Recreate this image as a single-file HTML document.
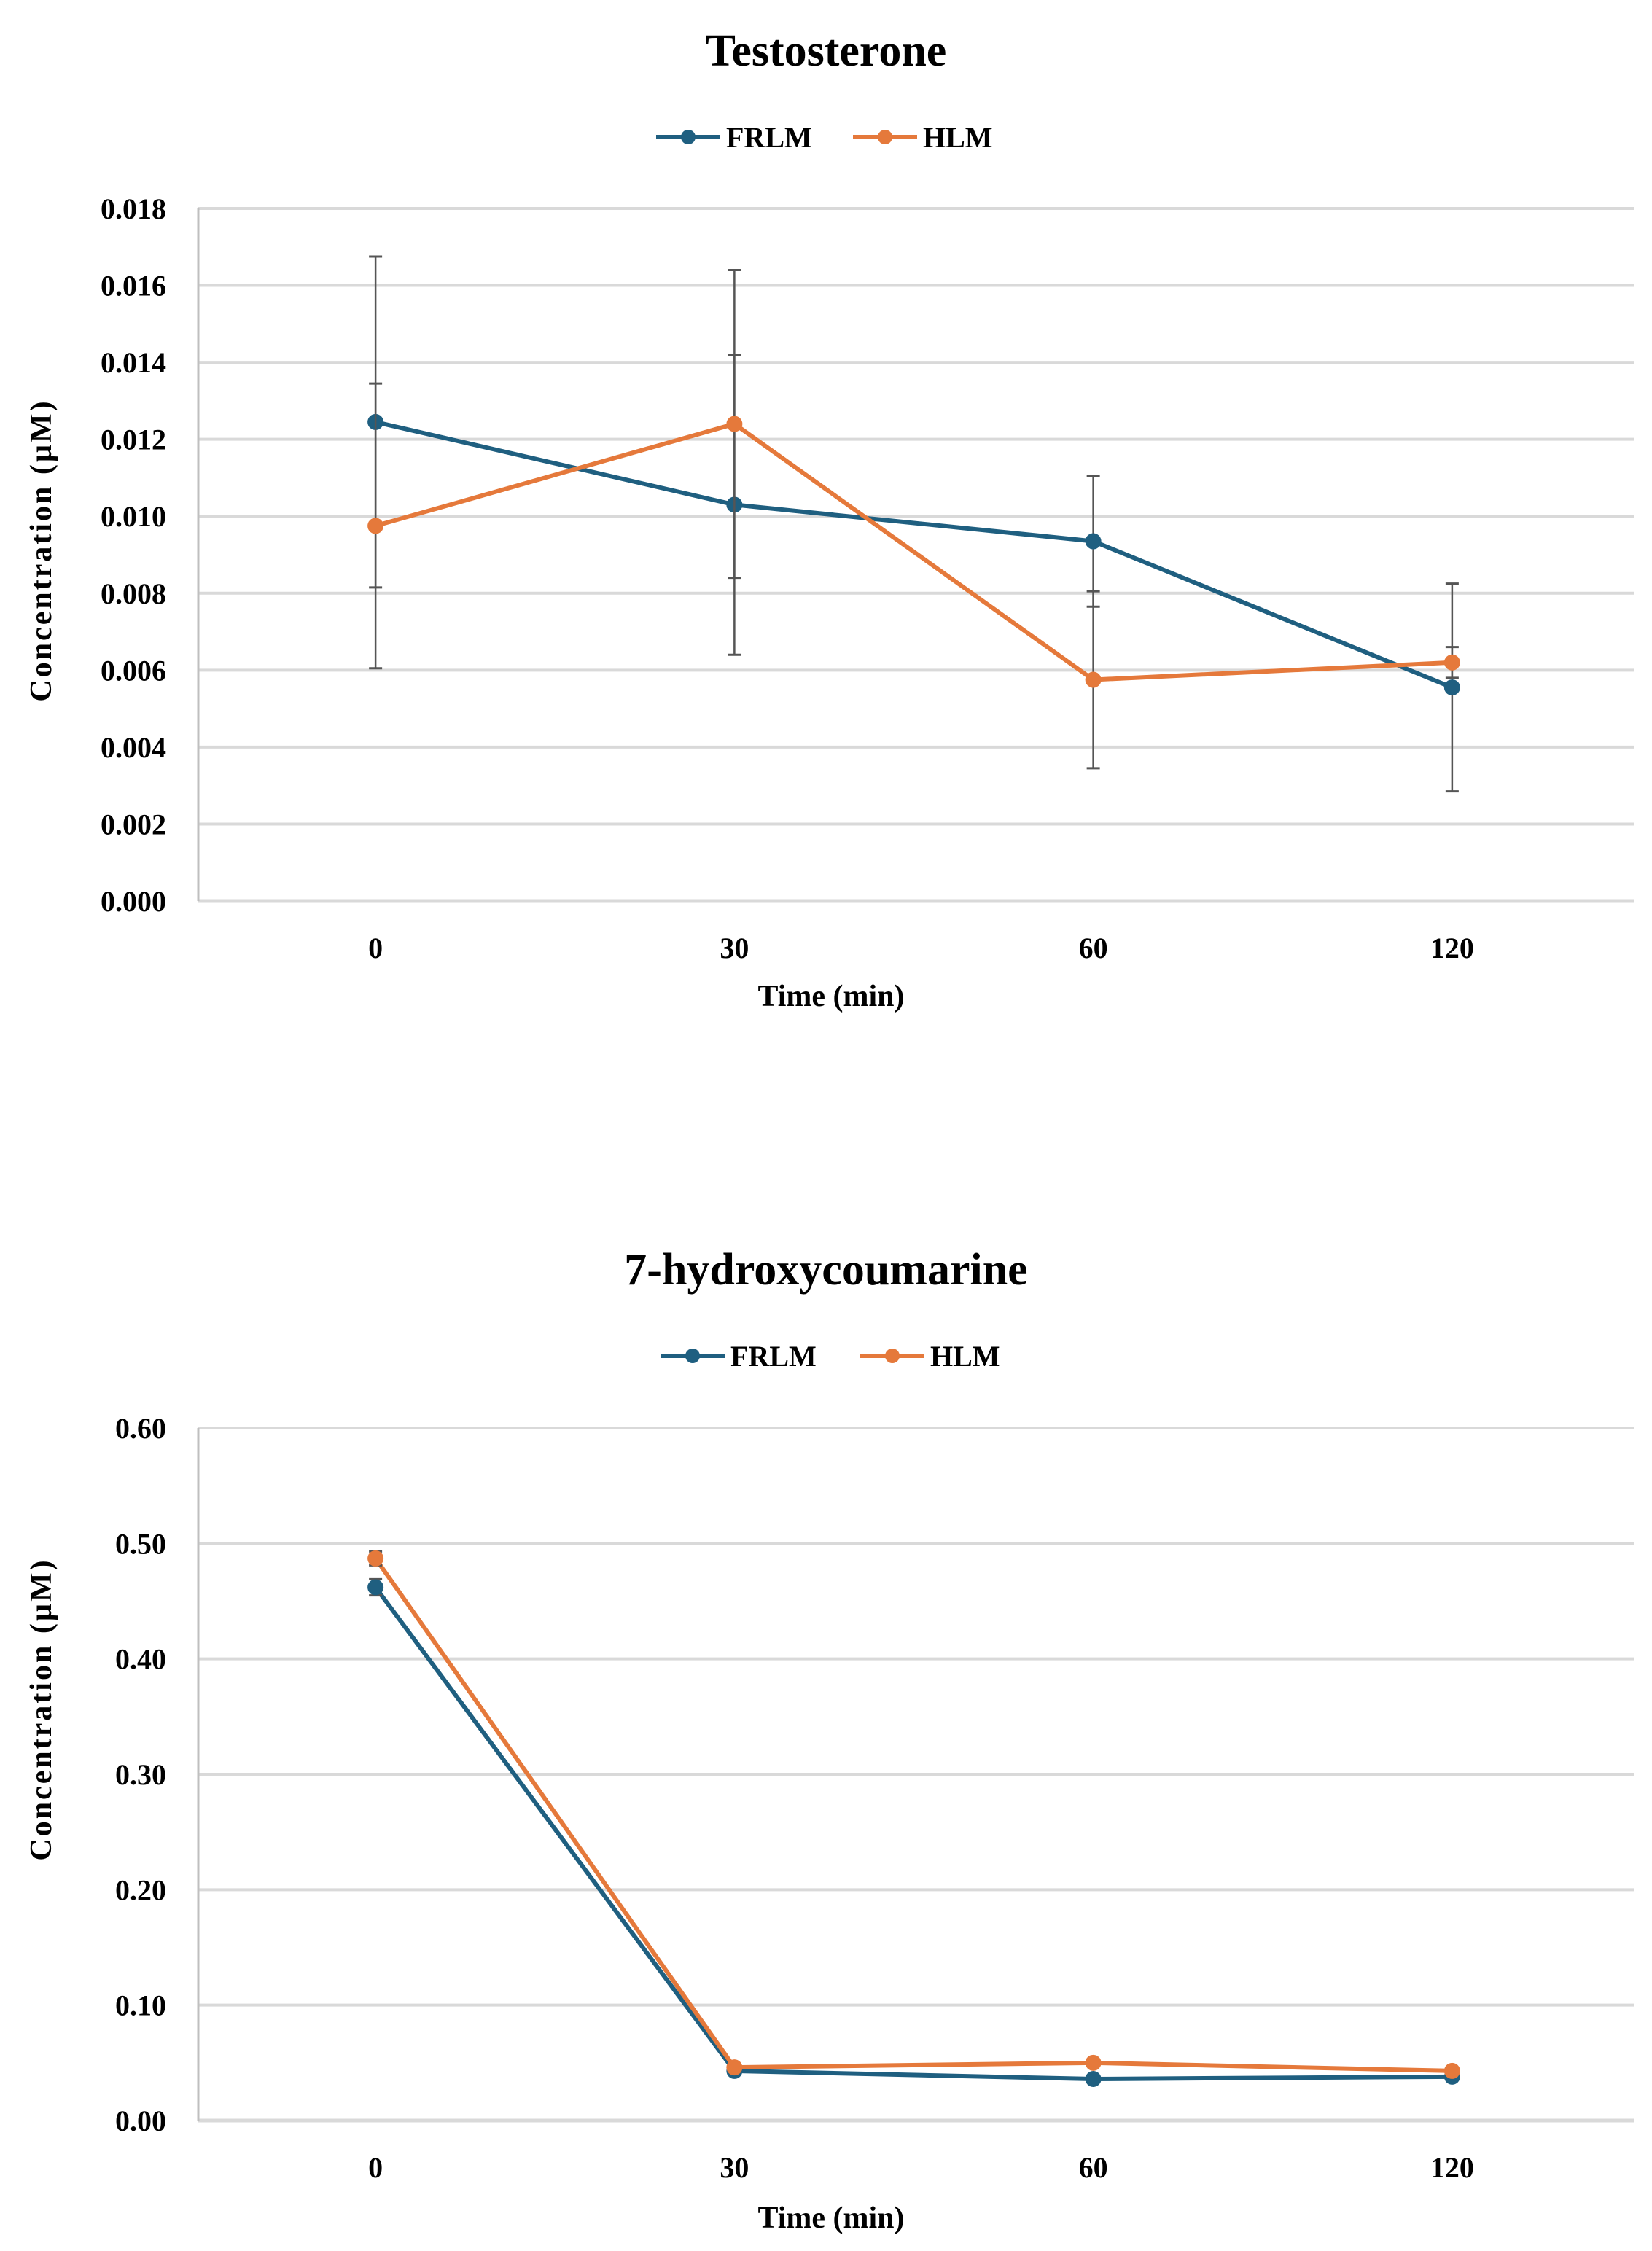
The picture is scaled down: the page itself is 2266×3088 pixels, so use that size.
<!DOCTYPE html>
<html><head><meta charset="utf-8"><style>
html,body{margin:0;padding:0;background:#fff;}
svg{display:block;font-family:"Liberation Serif",serif;}
</style></head><body>
<svg id="root" width="2266" height="3088" viewBox="0 0 2266 3088"></svg>
<script>
const categories = ["0","30","60","120"];
const testoFRLM = [0.01245, 0.0103, 0.00935, 0.00555];
const testoFRLMErr = [0.0043, 0.0039, 0.0017, 0.0027];
const testoHLM = [0.00975, 0.0124, 0.00575, 0.0062];
const testoHLMErr = [0.0037, 0.0040, 0.0023, 0.0004];
const testoTicks = ["0.000","0.002","0.004","0.006","0.008","0.010","0.012","0.014","0.016","0.018"];
const hcFRLM = [0.462, 0.043, 0.036, 0.038];
const hcFRLMErr = [0.007, 0.002, 0.002, 0.002];
const hcHLM = [0.487, 0.046, 0.050, 0.043];
const hcHLMErr = [0.006, 0.002, 0.002, 0.002];
const hcTicks = ["0.00","0.10","0.20","0.30","0.40","0.50","0.60"];

const NS="http://www.w3.org/2000/svg";
const root=document.getElementById('root');
function mk(tag,attrs,parent,text){const e=document.createElementNS(NS,tag);for(const k in attrs)e.setAttribute(k,attrs[k]);if(text!==undefined)e.textContent=text;(parent||root).appendChild(e);return e;}
const BLUE="#1f5f80", ORANGE="#e5793b";

function chart(cfg){
  const g=mk('g',{});
  
  
  const L=272,R=2241,T=cfg.top,B=cfg.bottom;
  const ymax=cfg.ymax;
  const y=v=>B-(v/ymax)*(B-T);
  const step=(R-L)/categories.length;
  const x=i=>L+step*(i+0.5)-3;
  const t=mk('text',{x:1133,y:cfg.titleY,'text-anchor':'middle','font-size':62,'font-weight':'bold',fill:'#000'},g,cfg.title);
  
  
  const series=[{n:'FRLM',c:BLUE},{n:'HLM',c:ORANGE}];
  series.forEach((s,k)=>{
    const lx=cfg.legX[k];
    const lg=mk('g',{},g);
    
    
    mk('line',{x1:lx,y1:cfg.legY,x2:lx+88,y2:cfg.legY,stroke:s.c,'stroke-width':6},lg);
    mk('circle',{cx:lx+44,cy:cfg.legY,r:10,fill:s.c},lg);
    mk('text',{x:lx+96,y:cfg.legY+14,'font-size':40,'font-weight':'bold',fill:'#000'},lg,s.n);
  });
  cfg.ticks.forEach((lab,i)=>{
    const v=ymax*i/(cfg.ticks.length-1);
    const gl=mk('line',{x1:L,y1:y(v),x2:R,y2:y(v),stroke:'#d9d9d9','stroke-width':i===0?5:4},g);
    
    
    const tl=mk('text',{x:228,y:y(v)+14,'text-anchor':'end','font-size':40,'font-weight':'bold',fill:'#000'},g,lab);
    
    
  });
  mk('line',{x1:L,y1:T,x2:L,y2:B,stroke:'#bfbfbf','stroke-width':3},g);
  categories.forEach((c,i)=>{
    const xl=mk('text',{x:x(i),y:cfg.xLabY,'text-anchor':'middle','font-size':40,'font-weight':'bold',fill:'#000'},g,c);
    
    
  });
  const xt=mk('text',{x:1140,y:cfg.xTitleY,'text-anchor':'middle','font-size':42,'font-weight':'bold',fill:'#000'},g,'Time (min)');
  
  
  const yt=mk('text',{x:0,y:0,transform:`translate(70,${cfg.yTitleC}) rotate(-90)`,'text-anchor':'middle','font-size':42,'font-weight':'bold','letter-spacing':3,fill:'#000'},g,'Concentration (µM)');
  
  
  cfg.series.forEach(s=>{
    const sg=mk('g',{},g);
    
    
    const pts=s.v.map((v,i)=>x(i)+','+y(v)).join(' ');
    mk('polyline',{points:pts,fill:'none',stroke:s.c,'stroke-width':6,'stroke-linejoin':'round'},sg);
    s.v.forEach((v,i)=>{
      const e=s.e[i];
      const eb=mk('g',{},sg);
      
      
      mk('line',{x1:x(i),y1:y(v+e),x2:x(i),y2:y(v-e),stroke:'#555','stroke-width':2.5},eb);
      mk('line',{x1:x(i)-9,y1:y(v+e),x2:x(i)+9,y2:y(v+e),stroke:'#555','stroke-width':3},eb);
      mk('line',{x1:x(i)-9,y1:y(v-e),x2:x(i)+9,y2:y(v-e),stroke:'#555','stroke-width':3},eb);
      const m=mk('circle',{cx:x(i),cy:y(v),r:11,fill:s.c},sg);
      
      
    });
  });
}
chart({name:'testosterone-chart',title:'Testosterone',titleY:90,legY:188,legX:[900,1170],top:286,bottom:1236,ymax:0.018,ticks:testoTicks,xLabY:1314,xTitleY:1380,yTitleC:755,
  series:[{n:'FRLM',c:BLUE,v:testoFRLM,e:testoFRLMErr},{n:'HLM',c:ORANGE,v:testoHLM,e:testoHLMErr}]});
chart({name:'hydroxycoumarine-chart',title:'7-hydroxycoumarine',titleY:1762,legY:1860,legX:[906,1180],top:1959,bottom:2909,ymax:0.6,ticks:hcTicks,xLabY:2987,xTitleY:3056,yTitleC:2345,
  series:[{n:'FRLM',c:BLUE,v:hcFRLM,e:hcFRLMErr},{n:'HLM',c:ORANGE,v:hcHLM,e:hcHLMErr}]});
</script>
</body></html>
